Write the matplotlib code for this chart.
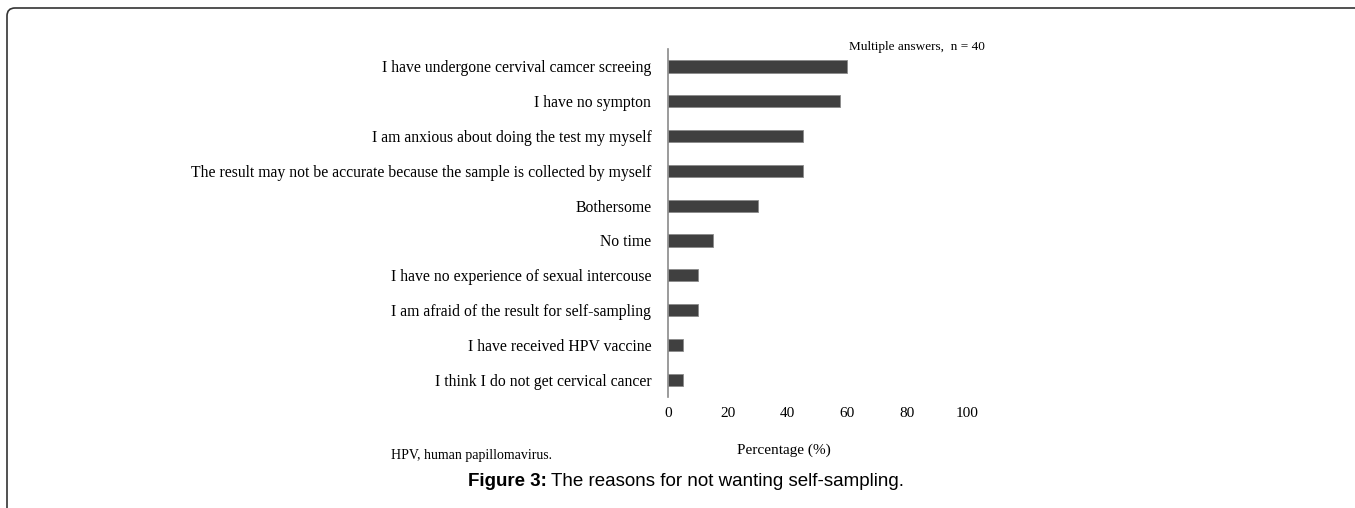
import matplotlib.pyplot as plt
from matplotlib.patches import FancyBboxPatch
from matplotlib.transforms import IdentityTransform

reasons = [
    "I have undergone cervival camcer screeing",
    "I have no sympton",
    "I am anxious about doing the test my myself",
    "The result may not be accurate because the sample is collected by myself",
    "Bothersome",
    "No time",
    "I have no experience of sexual intercouse",
    "I am afraid of the result for self-sampling",
    "I have received HPV vaccine",
    "I think I do not get cervical cancer",
]
percent = [60, 57.5, 45, 45, 30, 15, 10, 10, 5, 5]
xticks = [0, 20, 40, 60, 80, 100]

serif = "Liberation Serif"
W, H = 1355, 508

fig = plt.figure(figsize=(W / 100, H / 100), dpi=100)
ax = fig.add_axes([0.493, 0.2185, 0.2207, 0.685])

ax.barh(range(len(reasons)), percent, height=0.35, color="#404040",
        edgecolor="#8a8a8a", linewidth=0.6)
ax.set_ylim(9.5, -0.5)
ax.set_xlim(0, 100)
ax.set_yticks(range(len(reasons)))
ax.set_yticklabels(reasons, fontfamily=serif, fontsize=11.35)
ax.set_xticks(xticks)
ax.set_xticklabels([str(t) for t in xticks], fontfamily=serif, fontsize=11)
ax.tick_params(length=0)
ax.tick_params(axis="y", pad=12)
ax.tick_params(axis="x", pad=7)
for s in ["top", "right", "bottom"]:
    ax.spines[s].set_visible(False)
ax.spines["left"].set_color("#8a8a8a")
ax.spines["left"].set_linewidth(1.2)

ax.set_xlabel("Percentage (%)", fontfamily=serif, fontsize=11)
ax.xaxis.label.set_va("center")
ax.xaxis.set_label_coords((784 - 668) / 299, (397 - 450) / 348)

fig.text(985 / W, 1 - 47 / H, "Multiple answers,  n = 40", ha="right",
         va="center", fontfamily=serif, fontsize=9.5)
fig.text(391 / W, 1 - 455 / H, "HPV, human papillomavirus.", ha="left",
         va="center", fontfamily=serif, fontsize=10)

# caption: bold label followed by plain text
cap_y = 1 - 481 / H
bold = fig.text(468 / W, cap_y, "Figure 3:", ha="left", va="center",
                fontfamily="Liberation Sans", fontsize=13.5, fontweight="bold")
fig.canvas.draw()
x_end = bold.get_window_extent().x1
fig.text((x_end + 4) / W, cap_y, "The reasons for not wanting self-sampling.",
         ha="left", va="center", fontfamily="Liberation Sans", fontsize=13.5)

# outer frame (top and left edges visible, rounded corner)
frame = FancyBboxPatch((7, -60), 1500, 560, boxstyle="round,pad=0,rounding_size=8",
                       transform=IdentityTransform(), facecolor="none",
                       edgecolor="#333333", linewidth=1.2)
fig.patches.append(frame)

fig.savefig("out.png", dpi=100)
